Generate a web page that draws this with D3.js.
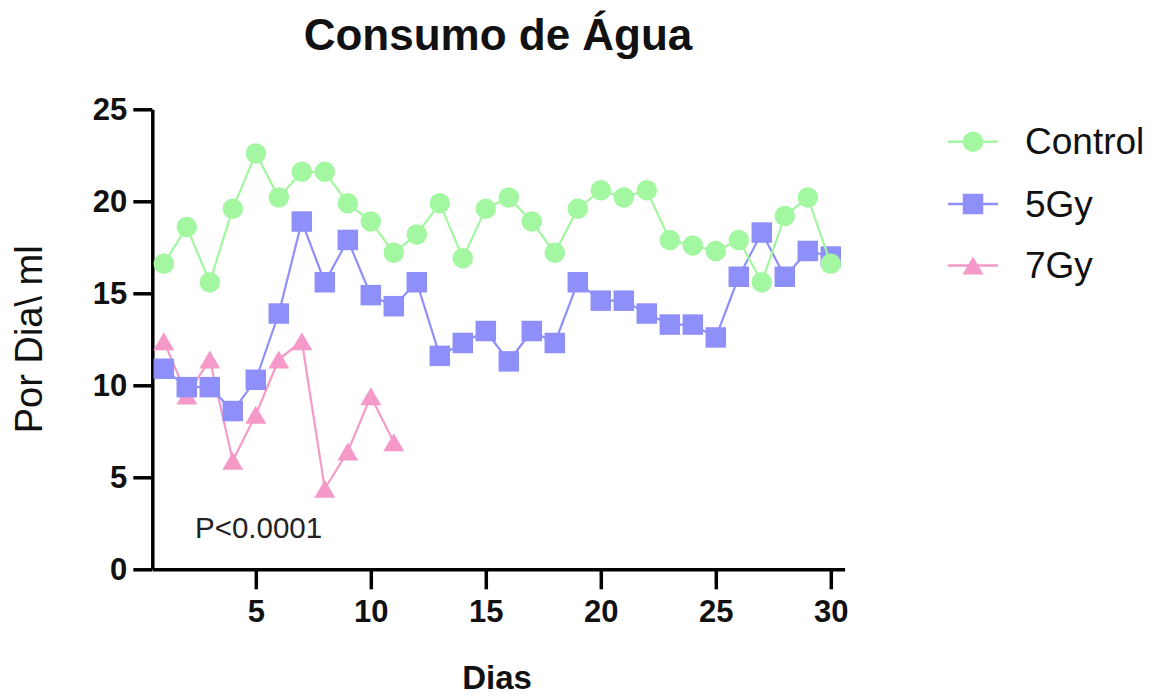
<!DOCTYPE html>
<html>
<head>
<meta charset="utf-8">
<script src="https://cdn.jsdelivr.net/npm/d3@7"></script>
<style>
  body { margin: 0; background: #fff; }
  svg { display: block; font-family: "Liberation Sans", Arial, sans-serif; }
</style>
</head>
<body>
<svg id="chart"></svg>
<script>
// --- data ---
const days = [1, 2, 3, 4, 5, 6, 7, 8, 9, 10, 11, 12, 13, 14, 15,
              16, 17, 18, 19, 20, 21, 22, 23, 24, 25, 26, 27, 28, 29, 30];
const control = [16.6, 18.6, 15.6, 19.6, 22.6, 20.2, 21.6, 21.6, 19.9, 18.9,
                 17.2, 18.2, 19.9, 16.9, 19.6, 20.2, 18.9, 17.2, 19.6, 20.6,
                 20.2, 20.6, 17.9, 17.6, 17.3, 17.9, 15.6, 19.2, 20.2, 16.6];
const gy5 = [10.9, 9.9, 9.9, 8.6, 10.3, 13.9, 18.9, 15.6, 17.9, 14.9,
             14.3, 15.6, 11.6, 12.3, 12.95, 11.3, 12.95, 12.3, 15.6, 14.6,
             14.6, 13.9, 13.3, 13.3, 12.6, 15.9, 18.3, 15.9, 17.3, 17.0];
const gy7 = [12.4, 9.45, 11.4, 5.9, 8.4, 11.4, 12.4, 4.38, 6.4, 9.4, 6.9];

const seriesNames = ['Control', '5Gy', '7Gy'];
const xTicks = [5, 10, 15, 20, 25, 30];
const yTicks = [0, 5, 10, 15, 20, 25];

const W = 1154, H = 699;
const svg = d3.select('#chart').attr('width', W).attr('height', H);

// scales
const x = d3.scaleLinear().domain([0.5, 30.6]).range([152.3, 844.6]);
const y = d3.scaleLinear().domain([0, 25]).range([569.3, 109.3]);

// marker shapes
const triangle = {
  draw(ctx, size) {
    const w = 21, h = 18;
    ctx.moveTo(0, -h / 2);
    ctx.lineTo(w / 2, h / 2);
    ctx.lineTo(-w / 2, h / 2);
    ctx.closePath();
  }
};
const series = [
  { name: '7Gy', values: gy7, color: '#f59ac8', symbol: d3.symbol(triangle) },
  { name: '5Gy', values: gy5, color: '#8f8ffa', symbol: d3.symbol(d3.symbolSquare, 420) },
  { name: 'Control', values: control, color: '#a2f7a0', symbol: d3.symbol(d3.symbolCircle, 330) }
];

// axes
const xAxis = svg.append('g')
  .attr('transform', `translate(0, ${y(0)})`)
  .call(d3.axisBottom(x).tickValues(xTicks).tickSize(20).tickSizeOuter(0).tickPadding(11));
const yAxis = svg.append('g')
  .attr('transform', `translate(${x(0.5)}, 0)`)
  .call(d3.axisLeft(y).tickValues(yTicks).tickSize(19).tickSizeOuter(0).tickPadding(6));

[xAxis, yAxis].forEach(g => {
  g.select('.domain').attr('stroke', '#000').attr('stroke-width', 3.5);
  g.selectAll('.tick line').attr('stroke', '#000').attr('stroke-width', 3.5);
  g.selectAll('.tick text')
    .attr('fill', '#111')
    .style('font-family', '"Liberation Sans", Arial, sans-serif')
    .style('font-size', '31px')
    .style('font-weight', 'bold');
});

// lines + markers
const plot = svg.append('g');
series.forEach(s => {
  const pts = s.values.map((v, i) => ({ day: days[i], v: v }));
  const line = d3.line().x(d => x(d.day)).y(d => y(d.v));
  plot.append('path')
    .datum(pts)
    .attr('d', line)
    .attr('fill', 'none')
    .attr('stroke', s.color)
    .attr('stroke-width', 2.2);
  plot.selectAll(null)
    .data(pts)
    .enter().append('path')
    .attr('transform', d => `translate(${x(d.day)}, ${y(d.v)})`)
    .attr('d', s.symbol())
    .attr('fill', s.color);
});

// titles and labels
svg.append('text')
  .attr('x', 498).attr('y', 50)
  .attr('text-anchor', 'middle')
  .style('font-size', '44px').style('font-weight', 'bold')
  .attr('fill', '#111')
  .text('Consumo de Água');

svg.append('text')
  .attr('x', 497).attr('y', 689)
  .attr('text-anchor', 'middle')
  .style('font-size', '33px').style('font-weight', 'bold')
  .attr('fill', '#111')
  .text('Dias');

svg.append('text')
  .attr('transform', `translate(42, ${(y(0) + y(25)) / 2}) rotate(-90)`)
  .attr('text-anchor', 'middle')
  .style('font-size', '38px')
  .attr('fill', '#111')
  .text('Por Dia\\ ml');

svg.append('text')
  .attr('x', 195).attr('y', 538)
  .style('font-size', '29.5px')
  .attr('fill', '#222')
  .text('P<0.0001');

// legend
const legendRows = [141.7, 204, 265.5];
const legendSeries = seriesNames.map(n => series.find(s => s.name === n));
const legend = svg.append('g');
legendSeries.forEach((s, i) => {
  const g = legend.append('g').attr('transform', `translate(0, ${legendRows[i]})`);
  g.append('line')
    .attr('x1', 948).attr('x2', 998)
    .attr('stroke', s.color).attr('stroke-width', 2.5);
  g.append('path')
    .attr('transform', 'translate(973, 0)')
    .attr('d', s.symbol())
    .attr('fill', s.color);
  g.append('text')
    .attr('x', 1025).attr('y', 12.5)
    .style('font-size', '37px')
    .attr('fill', '#111')
    .text(s.name);
});
</script>
</body>
</html>
